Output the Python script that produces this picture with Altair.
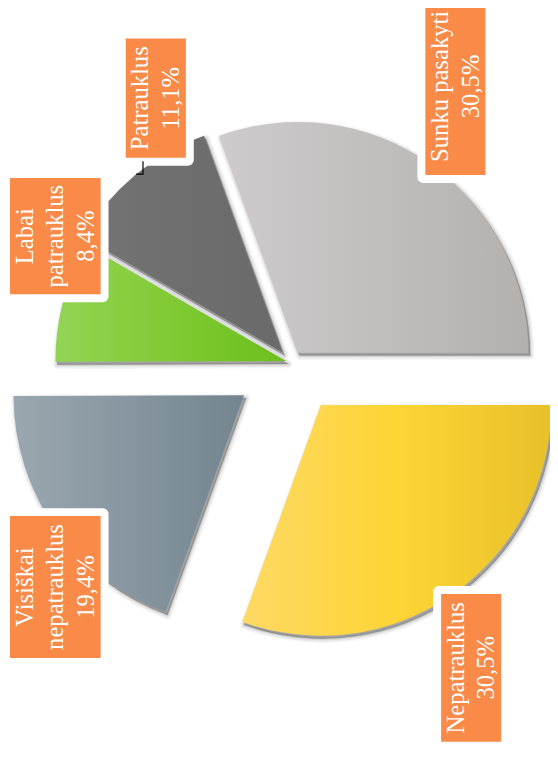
import math
import altair as alt
import pandas as pd

# ---------------- data ----------------
categories = ["Nepatrauklus", "Visiškai nepatrauklus", "Labai patrauklus", "Patrauklus", "Sunku pasakyti"]
values = [30.5, 19.4, 8.4, 11.1, 30.5]

# ---------------- style / layout ----------------
W, H = 550, 752
CX, CY = 287, 354          # pie centre (chart coords)
R = 234                    # pie radius
START = math.pi / 2        # first slice starts at 3 o'clock
explode = {"Nepatrauklus": 53, "Visiškai nepatrauklus": 58, "Labai patrauklus": 5,
           "Patrauklus": 13, "Sunku pasakyti": 12}
gradients = {
    "Nepatrauklus": ["#fdd964", "#fdd535", "#e8c12a"],
    "Visiškai nepatrauklus": ["#9aa7af", "#8796a0", "#748590"],
    "Labai patrauklus": ["#93d455", "#80ca33", "#6cbf1d"],
    "Patrauklus": ["#747474", "#6e6e6e", "#6a6a6a"],
    "Sunku pasakyti": ["#cdcbcc", "#c0bfbe", "#b2b1af"],
}
# label box: offset of box centre from pie centre, box width, box height
label_box = {
    "Sunku pasakyti": (167, -280, 61, 180),
    "Patrauklus": (-137, -268, 61, 121),
    "Labai patrauklus": (-239, -128, 92, 118),
    "Visiškai nepatrauklus": (-239, 228, 92, 144),
    "Nepatrauklus": (183, 310, 61, 150),
}
ORANGE = "#f98a48"
FONT = "Liberation Serif"
FS, LH = 25, 31

# ---------------- tables ----------------
total = sum(values)
rows = []
cum = 0.0
for c, v in zip(categories, values):
    t0, t1 = cum, cum + v
    cum = t1
    mid = START + (t0 + t1) / 2 / total * 2 * math.pi
    e = explode[c]
    rows.append({"cat": c, "value": v, "t0": t0, "t1": t1,
                 "cx": CX + e * math.sin(mid), "cy": CY - e * math.cos(mid)})
slices = pd.DataFrame(rows)
shadow = slices.assign(cx=slices.cx + 2, cy=slices.cy + 3)

lab_rows = []
for c, v in zip(categories, values):
    dx, dy, w, h = label_box[c]
    x, y = CX + dx, CY + dy
    name = c.replace(" ", "\n") if len(c) > 14 else c
    txt = name + "\n" + (f"{v:.1f}".replace(".", ",")) + "%"
    n = txt.count("\n") + 1
    lab_rows.append({"cat": c, "x": x, "y": y, "tx": x - (n - 1) * LH / 2,
                     "x1": x - w / 2, "x2": x + w / 2,
                     "y1": y - h / 2, "y2": y + h / 2,
                     "wx1": x - w / 2 - 8, "wx2": x + w / 2 + 8,
                     "wy1": y - h / 2 - 8, "wy2": y + h / 2 + 8, "label": txt})
labels = pd.DataFrame(lab_rows)

theta_scale = alt.Scale(domain=[0, total], range=[START, START + 2 * math.pi])
enc = dict(
    theta=alt.Theta("t0:Q", scale=theta_scale),
    theta2="t1:Q",
    x=alt.X("cx:Q", scale=None, axis=None),
    y=alt.Y("cy:Q", scale=None, axis=None),
)

layers = []
# soft shadows
for sw, op, fop in [(9, 0.035, 0.0), (6, 0.05, 0.0), (3, 0.08, 0.0), (1, 0.1, 0.3)]:
    layers.append(alt.Chart(shadow).mark_arc(
        outerRadius=R, fill="black", fillOpacity=fop, stroke="black",
        strokeWidth=sw, strokeOpacity=op, strokeJoin="round").encode(**enc))

for c in categories:
    g = gradients[c]
    grad = alt.Gradient(gradient="linear", x1=0, x2=1, y1=0, y2=0,
                        stops=[alt.GradientStop(color=g[0], offset=0),
                               alt.GradientStop(color=g[1], offset=0.5),
                               alt.GradientStop(color=g[2], offset=1)])
    layers.append(alt.Chart(slices).transform_filter(alt.datum.cat == c)
                  .mark_arc(outerRadius=R, fill=grad, strokeWidth=0).encode(**enc))

# white frames of labels
layers.append(alt.Chart(labels).mark_rect(fill="white", cornerRadius=6).encode(
    x=alt.X("wx1:Q", scale=None), x2="wx2:Q",
    y=alt.Y("wy1:Q", scale=None), y2="wy2:Q"))
# orange boxes
layers.append(alt.Chart(labels).mark_rect(fill=ORANGE).encode(
    x=alt.X("x1:Q", scale=None), x2="x2:Q",
    y=alt.Y("y1:Q", scale=None), y2="y2:Q"))
# leader tick of "Patrauklus"
pat = labels[labels.cat == "Patrauklus"].iloc[0]
leader = pd.DataFrame({"x": [pat.x - 20, pat.x - 13, pat.x - 13],
                       "y": [pat.y + 77, pat.y + 77, pat.y + 64], "o": [0, 1, 2]})
layers.append(alt.Chart(leader).mark_line(color="black", strokeWidth=1.2).encode(
    x=alt.X("x:Q", scale=None), y=alt.Y("y:Q", scale=None), order="o:O"))
# texts
layers.append(alt.Chart(labels).mark_text(
    angle=270, font=FONT, fontSize=FS, lineHeight=LH, color="white",
    align="center", baseline="middle", lineBreak="\n").encode(
    x=alt.X("tx:Q", scale=None), y=alt.Y("y:Q", scale=None), text="label:N"))

chart = alt.layer(*layers).properties(
    width=W, height=H, padding=0, autosize=alt.AutoSizeParams(type="none"),
    background="white"
).configure_view(stroke=None)

chart.save("out.html", embed_options={"renderer": "svg", "actions": False})
